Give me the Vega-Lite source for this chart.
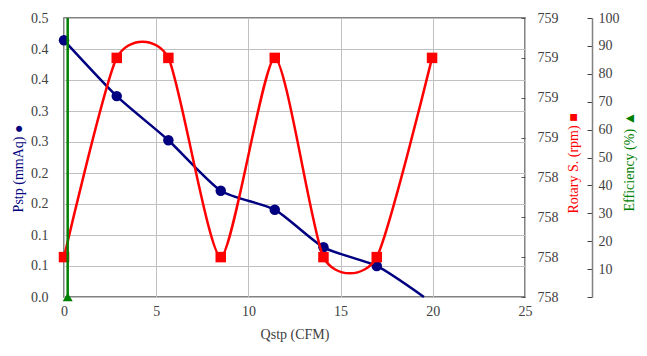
{
  "$schema": "https://vega.github.io/schema/vega-lite/v6.json",
  "autosize": "none",
  "width": 461,
  "height": 279,
  "padding": {"left": 64, "top": 18, "right": 122, "bottom": 59},
  "background": "white",
  "config": {
    "font": "DejaVu Serif",
    "view": {"stroke": "#595959", "strokeWidth": 1.5},
    "axis": {"labelFontSize": 14, "titleFontSize": 14, "labelColor": "#404040", "titleFontWeight": "normal", "gridColor": "#c0c0c0", "gridWidth": 1, "labelOverlap": false, "labelBound": false, "labelFlush": false, "tickCount": 30}
  },
  "datasets": {
    "pstp": [
      {"q": 0.0, "pstp": 0.46, "marker": true},
      {"q": 2.86, "pstp": 0.36, "marker": true},
      {"q": 5.66, "pstp": 0.281, "marker": true},
      {"q": 8.5, "pstp": 0.1905, "marker": true},
      {"q": 11.43, "pstp": 0.1565, "marker": true},
      {"q": 14.07, "pstp": 0.0891, "marker": true},
      {"q": 16.96, "pstp": 0.0556, "marker": true},
      {"q": 19.52, "pstp": 0.0, "marker": false}
    ],
    "rpm": [
      {"q": 0.0, "rpm": 758.143},
      {"q": 2.86, "rpm": 758.857},
      {"q": 5.66, "rpm": 758.857},
      {"q": 8.5, "rpm": 758.143},
      {"q": 11.43, "rpm": 758.857},
      {"q": 14.07, "rpm": 758.143},
      {"q": 16.96, "rpm": 758.143},
      {"q": 19.96, "rpm": 758.857}
    ],
    "eff": [
      {"q": 0.2, "eff": 0, "marker": true},
      {"q": 0.2, "eff": 100, "marker": false}
    ]
  },
  "encoding": {
    "x": {"field": "q", "type": "quantitative", "scale": {"domain": [0, 25], "nice": false},
      "axis": {"values": [0, 5, 10, 15, 20, 25], "tickCount": 30, "labelFont": "Liberation Serif", "titleFont": "Liberation Serif", "title": "Qstp (CFM)", "titleColor": "#404040", "ticks": false, "labelPadding": 7, "titlePadding": 9, "domain": false, "grid": true}}
  },
  "layer": [
    {
      "data": {"name": "pstp"},
      "layer": [
        {"mark": {"type": "line", "color": "#000080", "strokeWidth": 2.5, "interpolate": "cardinal", "tension": 0.35},
         "encoding": {"y": {"field": "pstp", "type": "quantitative", "scale": {"domain": [0, 0.5], "nice": false},
           "axis": {"values": [0, 0.05556, 0.11111, 0.16667, 0.22222, 0.27778, 0.33333, 0.38889, 0.44444, 0.5], "tickCount": 30, "format": ".1f", "labelFont": "Liberation Serif", "titleFont": "Liberation Serif", "title": "Pstp (mmAq) ●", "titleColor": "#000080", "ticks": false, "labelPadding": 16, "domain": false, "grid": true, "titleAngle": -90, "titleX": -46, "titleY": 150, "titleAlign": "center", "titleBaseline": "middle"}}}},
        {"transform": [{"filter": "datum.marker"}],
         "mark": {"type": "point", "shape": "circle", "filled": true, "color": "#000080", "size": 110, "opacity": 1},
         "encoding": {"y": {"field": "pstp", "type": "quantitative"}}}
      ]
    },
    {
      "data": {"name": "rpm"},
      "layer": [
        {"mark": {"type": "line", "color": "#ff0000", "strokeWidth": 2.5, "interpolate": "cardinal", "tension": 0.35},
         "encoding": {"y": {"field": "rpm", "type": "quantitative", "scale": {"domain": [758, 759], "nice": false, "zero": false},
           "axis": {"orient": "right", "values": [758, 758.142857, 758.285714, 758.428571, 758.571429, 758.714286, 758.857143, 759], "tickCount": 30, "format": ".0f", "labelFont": "Liberation Serif", "titleFont": "Liberation Serif", "title": "Rotary S. (rpm) ■", "titleColor": "#ff0000", "tickSize": -4, "tickColor": "#595959", "labelPadding": 16, "domain": false, "grid": false, "titleAngle": -90, "titleX": 48, "titleY": 145, "titleAlign": "center", "titleBaseline": "middle"}}}},
        {"mark": {"type": "square", "filled": true, "color": "#ff0000", "size": 110, "opacity": 1},
         "encoding": {"y": {"field": "rpm", "type": "quantitative"}}}
      ]
    },
    {
      "data": {"name": "eff"},
      "layer": [
        {"mark": {"type": "line", "color": "#008000", "strokeWidth": 2.5},
         "encoding": {"y": {"field": "eff", "type": "quantitative", "scale": {"domain": [0, 100], "nice": false},
           "axis": {"orient": "right", "offset": 67, "values": [0, 10, 20, 30, 40, 50, 60, 70, 80, 90, 100], "tickCount": 30, "labelExpr": "datum.value == 0 ? '' : datum.label", "labelFont": "Liberation Serif", "titleFont": "Liberation Serif", "title": "Efficiency (%) ▲", "titleColor": "#008000", "tickSize": -5, "tickColor": "#404040", "labelPadding": 11, "domain": true, "domainColor": "#808080", "domainWidth": 1.5, "grid": false, "titleAngle": -90, "titleX": 37, "titleY": 143, "titleAlign": "center", "titleBaseline": "middle"}}}},
        {"transform": [{"filter": "datum.marker"}],
         "mark": {"type": "point", "shape": "triangle-up", "filled": true, "color": "#008000", "size": 100, "opacity": 1},
         "encoding": {"y": {"field": "eff", "type": "quantitative"}}}
      ]
    }
  ],
  "resolve": {"scale": {"y": "independent"}, "axis": {"y": "independent"}}
}
